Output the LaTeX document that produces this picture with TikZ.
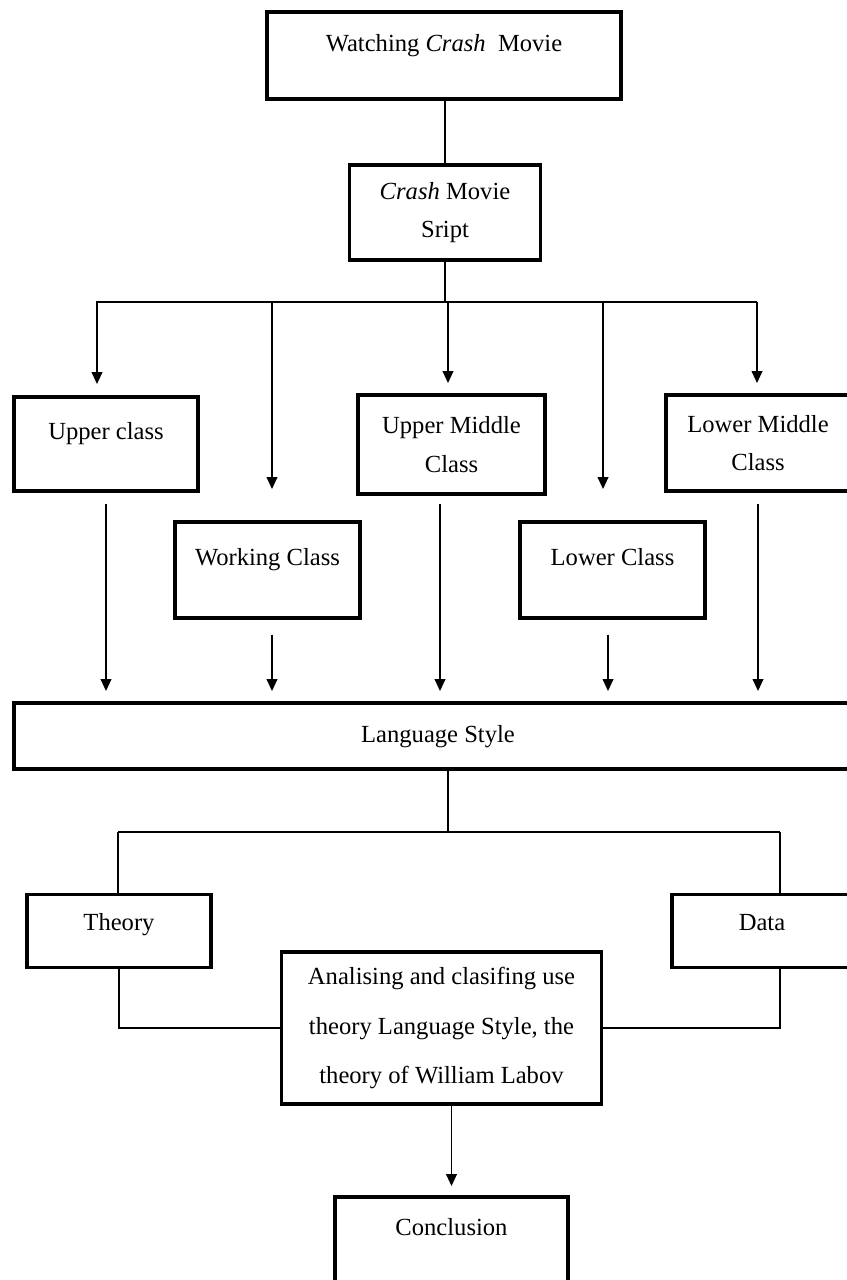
\documentclass[tikz,border=0pt]{standalone}
\usepackage{fontspec}
\setmainfont{Liberation Serif}
\usetikzlibrary{arrows.meta}

\begin{document}
\begin{tikzpicture}[x=0.02cm,y=-0.02cm,
    box/.style={draw,line width=2.2pt,align=center,inner sep=0pt,
        font=\fontsize{14}{22}\selectfont},
    link/.style={line width=1.1pt},
    arr/.style={line width=1.1pt,-{Triangle[length=6.8pt,width=6pt]}}]
\clip (0,0) rectangle (847,1280);
%boxes
\node[box,minimum width=7.08cm,minimum height=1.74cm,text height=0.34cm,text depth=0.48cm] (watch) at (444,55.5) {Watching \textit{Crash}\ \ Movie};
\node[box,minimum width=3.82cm,minimum height=1.90cm] (script) at (445,212.5) {\textit{Crash} Movie\\Sript};
\node[box,minimum width=3.68cm,minimum height=1.88cm,text height=0.34cm,text depth=0.54cm] (upper) at (106,444) {Upper class};
\node[box,minimum width=3.70cm,minimum height=1.92cm,text height=0.34cm,text depth=0.52cm] (working) at (267.5,570) {Working Class};
\node[box,minimum width=3.74cm,minimum height=1.98cm] (uppermid) at (451.5,444.5) {Upper Middle\\Class};
\node[box,minimum width=3.70cm,minimum height=1.92cm,text height=0.34cm,text depth=0.52cm] (lower) at (612.5,570) {Lower Class};
\node[box,minimum width=3.68cm,minimum height=1.92cm] (lowermid) at (758,443) {Lower Middle\\Class};
\node[box,minimum width=16.96cm,minimum height=1.32cm,text height=0.34cm,text depth=0.1cm] (lang) at (438,736) {Language Style};
\node[box,minimum width=3.68cm,minimum height=1.46cm,text height=0.34cm,text depth=0.38cm] (theory) at (119,931) {Theory};
\node[box,minimum width=3.60cm,minimum height=1.46cm,text height=0.34cm,text depth=0.38cm] (data) at (762,931) {Data};
\node[box,minimum width=6.40cm,minimum height=3.04cm,font=\fontsize{14}{28.4}\selectfont] (analysis) at (441.5,1028) {Analising and clasifing use\\theory Language Style, the\\theory of William Labov};
\node[box,minimum width=4.66cm,minimum height=2.06cm,text height=0.34cm,text depth=0.88cm] (concl) at (451.5,1248.5) {Conclusion};
%top connectors
\coordinate (busl) at (96,302);
\coordinate (busr) at (757,302);
\draw[link] (script.north |- watch.south) -- (script.north);
\draw[link] (script.south) -- (script.south |- busl);
\draw[link] (busl) -- (busr);
\foreach \n/\s/\g in {upper/-0.18/0.22,working/0.09/0.62,uppermid/-0.07/0.2,lower/-0.19/0.62,lowermid/-0.02/0.2}
    \draw[arr,shorten >=\g cm] ([xshift=\s cm]\n.north |- busl) -- ([xshift=\s cm]\n.north);
\foreach \n/\s/\g in {upper/0/0.22,working/0.09/0.3,uppermid/-0.23/0.16,lower/-0.09/0.3,lowermid/0/0.22}
    \draw[arr,shorten <=\g cm,shorten >=0.2cm] ([xshift=\s cm]\n.south) -- ([xshift=\s cm]\n.south |- lang.north);
%bottom connectors
\coordinate (bus) at (448,832);
\coordinate (busll) at (118,832);
\coordinate (busrr) at (780,832);
\draw[link] (bus |- lang.south) -- (bus);
\draw[link] (busll) -- (busrr);
\draw[link] (busll) -- (busll |- theory.north);
\draw[link] (busrr) -- (busrr |- data.north);
\draw[link] (theory.south) |- (analysis.west);
\draw[link] (busrr |- data.south) |- (analysis.east);
\draw[arr,shorten >=0.18cm] (concl.north |- analysis.south) -- (concl.north);
\end{tikzpicture}
\end{document}
